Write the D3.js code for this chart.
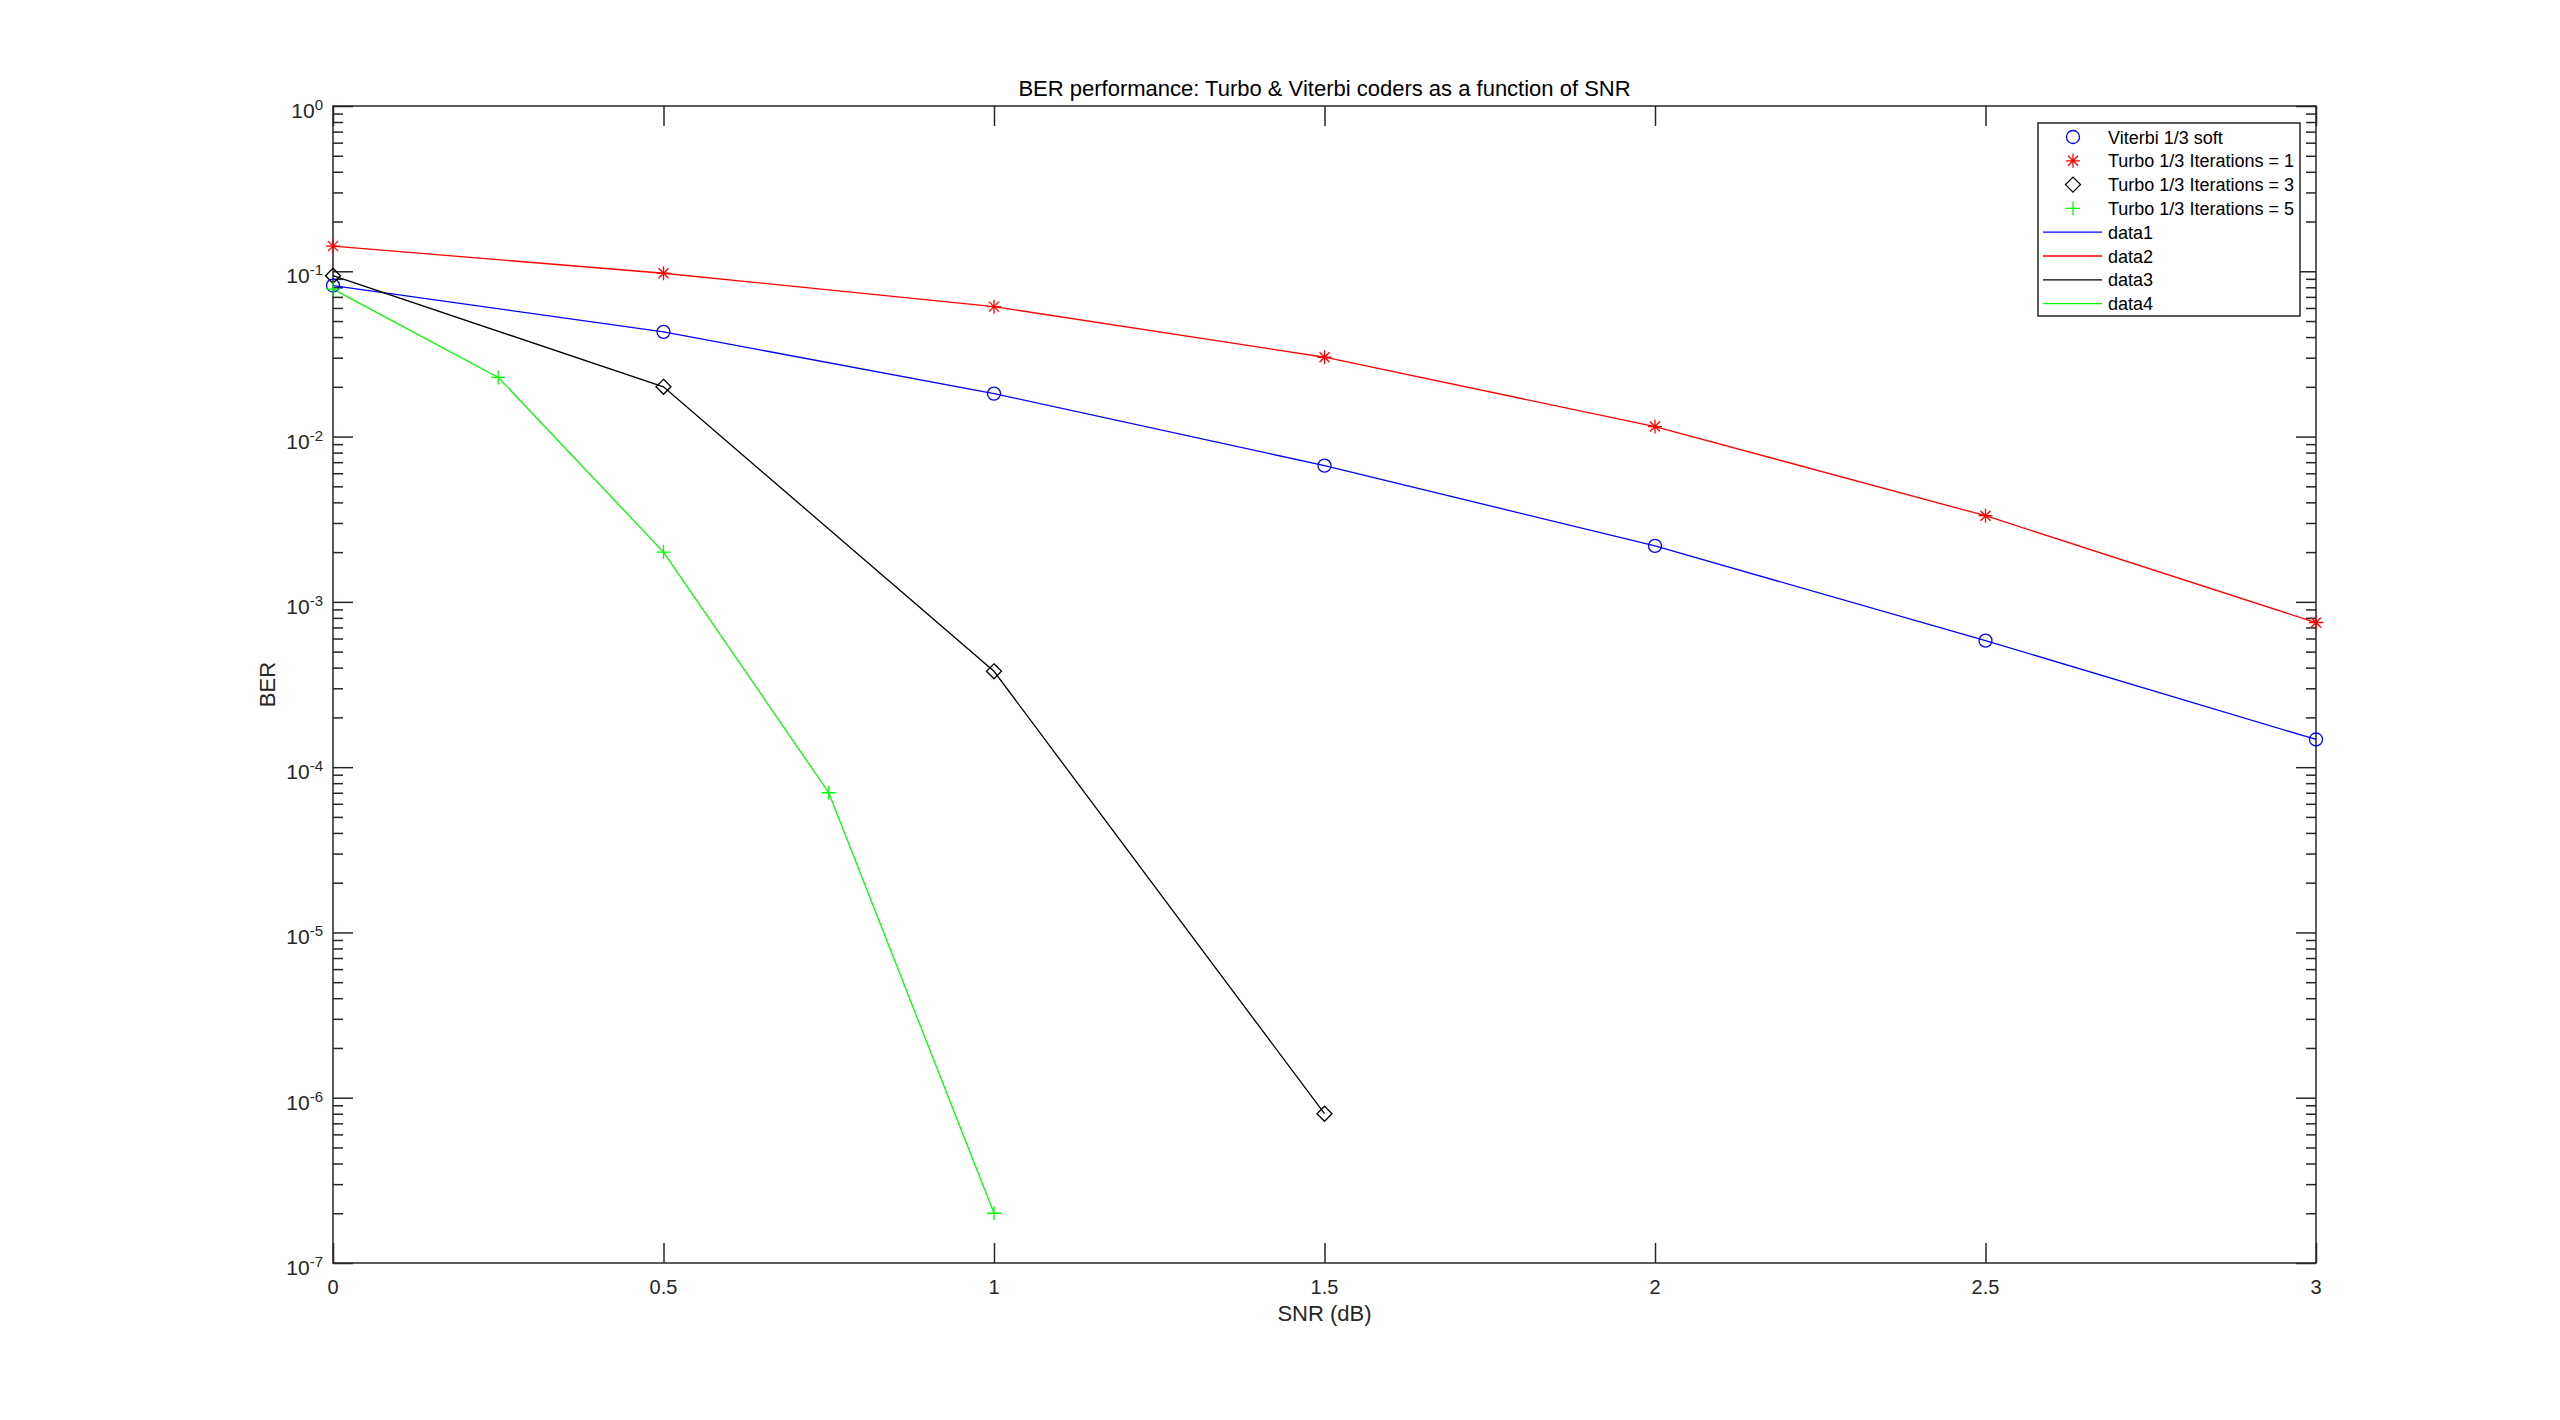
<!DOCTYPE html>
<html>
<head>
<meta charset="utf-8">
<script src="https://cdn.jsdelivr.net/npm/d3@7"></script>
<style>
  html, body { margin: 0; padding: 0; background: #fff; }
  svg { display: block; font-family: "Liberation Sans", Arial, Helvetica, sans-serif; }
  .axis-text { fill: #262626; }
</style>
</head>
<body>
<div id="chart"></div>
<script>
// SNR (dB) values for each series
const snrViterbi = [0, 0.5, 1, 1.5, 2, 2.5, 3];
const snrTurbo1 = [0, 0.5, 1, 1.5, 2, 2.5, 3];
const snrTurbo3 = [0, 0.5, 1, 1.5];
const snrTurbo5 = [0, 0.25, 0.5, 0.75, 1];

// BER values
const berViterbi = [0.082, 0.043, 0.0182, 0.00667, 0.00218, 0.000583, 0.000147];
const berTurbo1 = [0.142, 0.0973, 0.0611, 0.0302, 0.0115, 0.00332, 0.00075];
const berTurbo3 = [0.094, 0.02, 0.00038, 8e-7];
const berTurbo5 = [0.078, 0.0228, 0.002, 7e-5, 2e-7];

const xTicks = [0, 0.5, 1, 1.5, 2, 2.5, 3];
const xTickLabels = ['0', '0.5', '1', '1.5', '2', '2.5', '3'];
const yExponents = [0, -1, -2, -3, -4, -5, -6, -7];

const markerNames = ['Viterbi 1/3 soft', 'Turbo 1/3 Iterations = 1', 'Turbo 1/3 Iterations = 3', 'Turbo 1/3 Iterations = 5'];
const lineNames = ['data1', 'data2', 'data3', 'data4'];
const seriesColors = ['#0000ff', '#ff0000', '#000000', '#00ff00'];

const width = 2560;
const height = 1420;
const plot = { left: 333, right: 2316, top: 106, bottom: 1263 };
const axisColor = '#262626';

// matlab-like marker shapes as d3 symbol types
const symCircle = { draw(ctx) { ctx.moveTo(6.5, 0); ctx.arc(0, 0, 6.5, 0, 2 * Math.PI); } };
const symPlus = { draw(ctx) { ctx.moveTo(-7, 0); ctx.lineTo(7, 0); ctx.moveTo(0, -7); ctx.lineTo(0, 7); } };
const symStar = {
  draw(ctx) {
    ctx.moveTo(-7, 0); ctx.lineTo(7, 0);
    ctx.moveTo(0, -7); ctx.lineTo(0, 7);
    ctx.moveTo(-5, -5); ctx.lineTo(5, 5);
    ctx.moveTo(-5, 5); ctx.lineTo(5, -5);
  }
};
const symDiamond = { draw(ctx) { ctx.moveTo(0, -7.5); ctx.lineTo(7.5, 0); ctx.lineTo(0, 7.5); ctx.lineTo(-7.5, 0); ctx.closePath(); } };
const markerTypes = [symCircle, symStar, symDiamond, symPlus];

const series = [
  { x: snrViterbi, y: berViterbi },
  { x: snrTurbo1, y: berTurbo1 },
  { x: snrTurbo3, y: berTurbo3 },
  { x: snrTurbo5, y: berTurbo5 }
].map((s, i) => ({
  points: s.x.map((v, j) => [v, s.y[j]]),
  color: seriesColors[i],
  marker: markerTypes[i]
}));

const svg = d3.select('#chart').append('svg')
  .attr('width', width)
  .attr('height', height);

svg.append('rect').attr('width', width).attr('height', height).attr('fill', '#fff');

const x = d3.scaleLinear().domain([0, 3]).range([plot.left, plot.right]);
const y = d3.scaleLog().domain([1e-7, 1]).range([plot.bottom, plot.top]);

// ticks (inward, mirrored on all sides)
const majorY = yExponents.map(e => Math.pow(10, e));
const minorY = y.ticks().filter(v => majorY.every(m => Math.abs(Math.log10(v) - Math.log10(m)) > 1e-6));

function tickAxis(axisFn, scale, values, size, translate) {
  const g = svg.append('g')
    .attr('transform', translate)
    .call(axisFn(scale).tickValues(values).tickSize(size).tickSizeOuter(0).tickFormat(''));
  g.select('.domain').remove();
  g.selectAll('.tick line').attr('stroke', axisColor).attr('stroke-width', 1.5);
  return g;
}

tickAxis(d3.axisLeft, y, majorY, -20, `translate(${plot.left},0)`);
tickAxis(d3.axisLeft, y, minorY, -10, `translate(${plot.left},0)`);
tickAxis(d3.axisRight, y, majorY, -20, `translate(${plot.right},0)`);
tickAxis(d3.axisRight, y, minorY, -10, `translate(${plot.right},0)`);
tickAxis(d3.axisBottom, x, xTicks, -20, `translate(0,${plot.bottom})`);
tickAxis(d3.axisTop, x, xTicks, -20, `translate(0,${plot.top})`);

// box
svg.append('rect')
  .attr('x', plot.left).attr('y', plot.top)
  .attr('width', plot.right - plot.left).attr('height', plot.bottom - plot.top)
  .attr('fill', 'none')
  .attr('stroke', axisColor)
  .attr('stroke-width', 1.5);

// x tick labels
svg.append('g').selectAll('text')
  .data(xTicks)
  .join('text')
  .attr('class', 'axis-text')
  .attr('x', d => x(d))
  .attr('y', plot.bottom + 31)
  .attr('text-anchor', 'middle')
  .attr('font-size', 20)
  .text((d, i) => xTickLabels[i]);

// y tick labels: 10^e
const yLabels = svg.append('g').selectAll('text')
  .data(yExponents)
  .join('text')
  .attr('class', 'axis-text')
  .attr('x', plot.left - 10)
  .attr('y', d => y(Math.pow(10, d)) + 12)
  .attr('text-anchor', 'end')
  .attr('font-size', 21);
yLabels.append('tspan').text('10');
yLabels.append('tspan')
  .attr('dy', -8)
  .attr('font-size', 15)
  .text(d => String(d));

// axis labels and title
svg.append('text')
  .attr('class', 'axis-text')
  .attr('x', (plot.left + plot.right) / 2)
  .attr('y', plot.bottom + 58)
  .attr('text-anchor', 'middle')
  .attr('font-size', 22)
  .text('SNR (dB)');

svg.append('text')
  .attr('class', 'axis-text')
  .attr('transform', `translate(${plot.left - 58},${(plot.top + plot.bottom) / 2}) rotate(-90)`)
  .attr('text-anchor', 'middle')
  .attr('font-size', 22)
  .text('BER');

svg.append('text')
  .attr('x', (plot.left + plot.right) / 2)
  .attr('y', plot.top - 10)
  .attr('text-anchor', 'middle')
  .attr('font-size', 22)
  .attr('fill', '#000')
  .text('BER performance: Turbo & Viterbi coders as a function of SNR');

// lines
const line = d3.line().x(d => x(d[0])).y(d => y(d[1]));
svg.append('g').selectAll('path')
  .data(series)
  .join('path')
  .attr('d', d => line(d.points))
  .attr('fill', 'none')
  .attr('stroke', d => d.color)
  .attr('stroke-width', 1.3);

// markers
series.forEach(s => {
  svg.append('g').selectAll('path')
    .data(s.points)
    .join('path')
    .attr('transform', d => `translate(${x(d[0])},${y(d[1])})`)
    .attr('d', d3.symbol().type(s.marker))
    .attr('fill', 'none')
    .attr('stroke', s.color)
    .attr('stroke-width', 1.3);
});

// legend
const legend = { x: 2038, y: 123, w: 262, h: 193, row: 23.8, first: 14 };
const lg = svg.append('g').attr('transform', `translate(${legend.x},${legend.y})`);
lg.append('rect')
  .attr('width', legend.w).attr('height', legend.h)
  .attr('fill', '#fff')
  .attr('stroke', axisColor)
  .attr('stroke-width', 1.5);

const entries = markerNames.map((n, i) => ({ name: n, marker: markerTypes[i], color: seriesColors[i] }))
  .concat(lineNames.map((n, i) => ({ name: n, marker: null, color: seriesColors[i] })));

const rows = lg.selectAll('g.entry')
  .data(entries)
  .join('g')
  .attr('class', 'entry')
  .attr('transform', (d, i) => `translate(0,${legend.first + i * legend.row})`);

rows.filter(d => d.marker)
  .append('path')
  .attr('transform', 'translate(35,0)')
  .attr('d', d => d3.symbol().type(d.marker)())
  .attr('fill', 'none')
  .attr('stroke', d => d.color)
  .attr('stroke-width', 1.3);

rows.filter(d => !d.marker)
  .append('line')
  .attr('x1', 5).attr('x2', 64)
  .attr('stroke', d => d.color)
  .attr('stroke-width', 1.3);

rows.append('text')
  .attr('x', 70)
  .attr('y', 6.5)
  .attr('font-size', 18)
  .attr('fill', '#000')
  .text(d => d.name);
</script>
</body>
</html>
